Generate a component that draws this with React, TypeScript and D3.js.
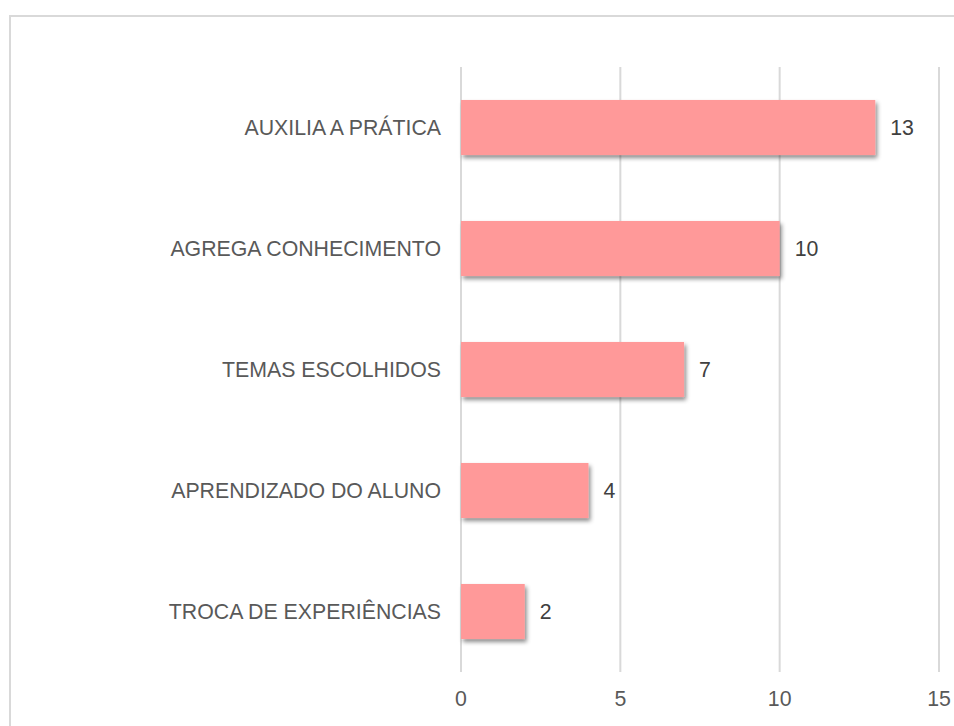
import React from "react";
import * as d3 from "d3";

const categories = [
  "AUXILIA A PRÁTICA",
  "AGREGA CONHECIMENTO",
  "TEMAS ESCOLHIDOS",
  "APRENDIZADO DO ALUNO",
  "TROCA DE EXPERIÊNCIAS",
];
const values = [13, 10, 7, 4, 2];
const xTicks = [0, 5, 10, 15];

export default function App() {
  const W = 954;
  const H = 726;
  const x = d3.scaleLinear().domain([0, 15]).range([461, 939]);
  const y = d3.scaleBand<string>().domain(categories).range([67, 672]).paddingInner(0.545).paddingOuter(0.2725);
  const font = "'Liberation Sans', Arial, sans-serif";
  const fs = 21.3;
  return (
    <svg width={W} height={H} style={{ position: "absolute", left: 0, top: 0 }}>
      <defs>
        <filter id="sh" x="-10%" y="-20%" width="130%" height="160%">
          <feDropShadow dx="2" dy="3" stdDeviation="2" floodColor="#000" floodOpacity="0.45" />
        </filter>
      </defs>
      <rect x={0} y={0} width={W} height={H} fill="#fff" />
      <rect x={10} y={16} width={W + 20} height={H + 20} fill="#fff" stroke="#d9d9d9" strokeWidth={2} />
      {xTicks.map((t) => (
        <line key={t} x1={x(t)} x2={x(t)} y1={67} y2={672} stroke="#d9d9d9" strokeWidth={2} />
      ))}
      {categories.map((c, i) => (
        <g key={c}>
          <rect
            x={x(0)}
            y={y(c)!}
            width={x(values[i]) - x(0)}
            height={y.bandwidth()}
            fill="#ff9999"
            filter="url(#sh)"
          />
          <text
            x={441}
            y={y(c)! + y.bandwidth() / 2}
            textAnchor="end"
            dominantBaseline="central"
            fontFamily={font}
            fontSize={fs}
            fill="#595959"
          >
            {c}
          </text>
          <text
            x={x(values[i]) + 15}
            y={y(c)! + y.bandwidth() / 2}
            dominantBaseline="central"
            fontFamily={font}
            fontSize={fs}
            fill="#404040"
          >
            {values[i]}
          </text>
        </g>
      ))}
      {xTicks.map((t) => (
        <text
          key={"l" + t}
          x={x(t)}
          y={699}
          textAnchor="middle"
          dominantBaseline="central"
          fontFamily={font}
          fontSize={fs}
          fill="#595959"
        >
          {t}
        </text>
      ))}
    </svg>
  );
}
